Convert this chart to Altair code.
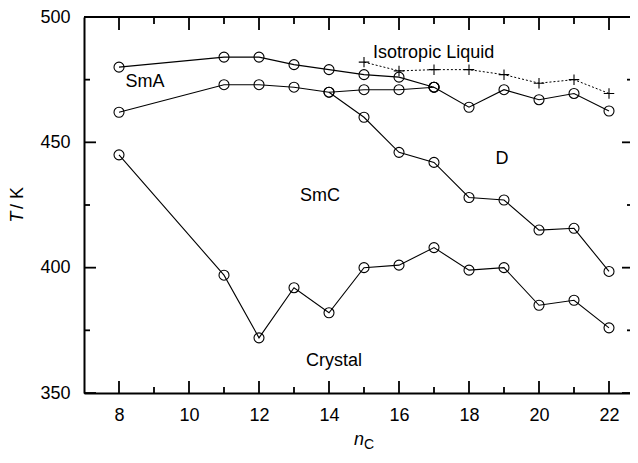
import altair as alt
import pandas as pd

# ---- data ----
n_upper = [8, 11, 12, 13, 14, 15, 16, 17]
T_sma_iso = [480, 484, 484, 481, 479, 477, 476, 472]
T_smc_sma = [462, 473, 473, 472, 470, 471, 471, 472]

n_d_iso = [17, 18, 19, 20, 21, 22]
T_d_iso = [472, 464, 471, 467, 469.5, 462.5]

n_smc_d = [14, 15, 16, 17, 18, 19, 20, 21, 22]
T_smc_d = [470, 460, 446, 442, 428, 427, 415, 415.7, 398.5]

n_cryst = [8, 11, 12, 13, 14, 15, 16, 17, 18, 19, 20, 21, 22]
T_cryst = [445, 397, 372, 392, 382, 400, 401, 408, 399, 400, 385, 387, 376]

n_iso = [15, 16, 17, 18, 19, 20, 21, 22]
T_iso = [482, 478.5, 479, 479, 477, 473.6, 475, 469.5]

labels_text = ["SmA", "Isotropic Liquid", "SmC", "D", "Crystal"]
labels_n = [8.74, 15.26, 13.74, 18.94, 14.14]
labels_T = [474, 485.6, 428.4, 443.2, 362.8]
labels_align = ["center", "left", "center", "center", "center"]

x_major = [8, 10, 12, 14, 16, 18, 20, 22]
x_minor = [9, 11, 13, 15, 17, 19, 21]
y_major = [350, 400, 450, 500]
y_minor = [375, 425, 475]

W, H = 546, 376
FONT = "Liberation Sans"

xscale = alt.Scale(domain=[7, 22.6], nice=False, zero=False)
yscale = alt.Scale(domain=[350, 500], nice=False, zero=False)
xaxis = alt.Axis(values=x_major, ticks=False, grid=False, domainWidth=2, domainColor="black",
                 labelFont=FONT, labelFontSize=18, labelColor="black", labelPadding=13, title=None,
                 labelFlush=False)
yaxis = alt.Axis(values=y_major, ticks=False, grid=False, domainWidth=2, domainColor="black",
                 labelFont=FONT, labelFontSize=18, labelColor="black", labelPadding=14, title=None,
                 labelFlush=False)

X = alt.X("n:Q", scale=xscale, axis=xaxis)
Y = alt.Y("T:Q", scale=yscale, axis=yaxis)

def series(name, ns, ts):
    return pd.DataFrame({"series": name, "n": ns, "T": ts})

solid = pd.concat([
    series("SmA-Iso", n_upper, T_sma_iso),
    series("SmC-SmA", n_upper, T_smc_sma),
    series("D-Iso", n_d_iso, T_d_iso),
    series("SmC-D", n_smc_d, T_smc_d),
    series("Cr", n_cryst, T_cryst),
])
iso = series("Iso", n_iso, T_iso)

lines = alt.Chart(solid).mark_line(color="black", strokeWidth=1.1).encode(
    x=X, y=Y, detail="series:N", order="n:Q")
circles = alt.Chart(solid).mark_point(shape="circle", filled=False, size=100, color="black",
                                      strokeWidth=1.1, opacity=1).encode(x=X, y=Y)
iso_line = alt.Chart(iso).mark_line(color="black", strokeWidth=1, strokeDash=[2, 2]).encode(
    x=X, y=Y, order="n:Q")
iso_pts = alt.Chart(iso).mark_point(shape="M-1,0L1,0M0,-1L0,1", filled=False, size=110,
                                    color="black", strokeWidth=1.1, opacity=1).encode(x=X, y=Y)

lab_df = pd.DataFrame({"text": labels_text, "n": labels_n, "T": labels_T, "align": labels_align})
labs_c = alt.Chart(lab_df[lab_df["align"] == "center"]).mark_text(
    font=FONT, fontSize=18, color="black", align="center", baseline="middle").encode(
    x=X, y=Y, text="text:N")
labs_l = alt.Chart(lab_df[lab_df["align"] == "left"]).mark_text(
    font=FONT, fontSize=18, color="black", align="left", baseline="middle").encode(
    x=X, y=Y, text="text:N")

# inward ticks
xmaj = pd.DataFrame({"n": x_major})
xmin = pd.DataFrame({"n": x_minor})
ymaj = pd.DataFrame({"T": y_major})
ymin = pd.DataFrame({"T": y_minor})
tk = dict(color="black", strokeWidth=1.8)
ticks = [
    alt.Chart(xmaj).mark_rule(**tk).encode(x=X, y=alt.value(H), y2=alt.value(H - 12)),
    alt.Chart(xmin).mark_rule(**tk).encode(x=X, y=alt.value(H), y2=alt.value(H - 6)),
    alt.Chart(xmaj).mark_rule(**tk).encode(x=X, y=alt.value(0), y2=alt.value(13)),
    alt.Chart(xmin).mark_rule(**tk).encode(x=X, y=alt.value(0), y2=alt.value(7)),
    alt.Chart(ymaj).mark_rule(**tk).encode(y=Y, x=alt.value(0), x2=alt.value(12)),
    alt.Chart(ymin).mark_rule(**tk).encode(y=Y, x=alt.value(0), x2=alt.value(6)),
    alt.Chart(ymaj).mark_rule(**tk).encode(y=Y, x=alt.value(W - 8), x2=alt.value(W)),
    alt.Chart(ymin).mark_rule(**tk).encode(y=Y, x=alt.value(W - 3), x2=alt.value(W)),
]
top_line = alt.Chart(pd.DataFrame({"a": [0]})).mark_rule(color="black", strokeWidth=2).encode(
    x=alt.value(0), x2=alt.value(W), y=alt.value(0))

one = pd.DataFrame({"a": [0]})
ttl_T = alt.Chart(one).mark_text(text="T", font=FONT, fontSize=18, fontStyle="italic", angle=270,
                                 color="black", align="center", baseline="middle").encode(
    x=alt.value(-66), y=alt.value(200))
ttl_K = alt.Chart(one).mark_text(text="/ K", font=FONT, fontSize=18, angle=270,
                                 color="black", align="center", baseline="middle").encode(
    x=alt.value(-66), y=alt.value(181))
ttl_n = alt.Chart(one).mark_text(text="n", font=FONT, fontSize=18, fontStyle="italic",
                                 color="black", align="center", baseline="middle").encode(
    x=alt.value(275), y=alt.value(423))
ttl_C = alt.Chart(one).mark_text(text="C", font=FONT, fontSize=14,
                                 color="black", align="center", baseline="middle").encode(
    x=alt.value(285), y=alt.value(428))

chart = alt.layer(
    lines, iso_line, circles, iso_pts, labs_c, labs_l, *ticks, top_line,
    ttl_T, ttl_K, ttl_n, ttl_C
).properties(
    width=W, height=H,
    autosize=alt.AutoSizeParams(type="none"),
    padding={"left": 76, "top": 9, "right": 0, "bottom": 58},
    background="white",
).configure_view(stroke=None)

chart.save("out.html", embed_options={"renderer": "svg", "actions": False})
